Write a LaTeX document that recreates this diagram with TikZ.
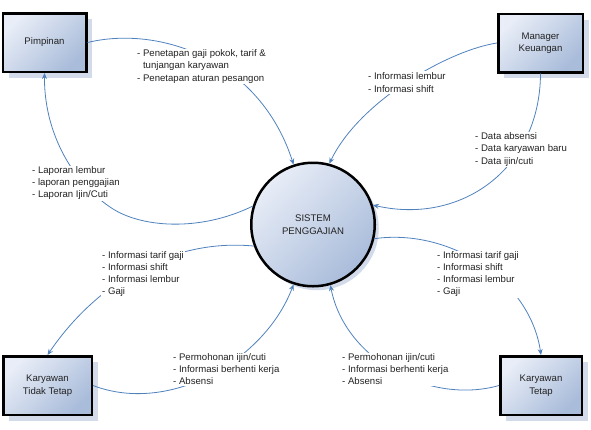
\documentclass[tikz,border=0pt]{standalone}
\usepackage{fontspec}
\setmainfont{Liberation Sans}
\usetikzlibrary{shadows,arrows.meta}
\definecolor{flowc}{HTML}{4F81BD}
\definecolor{boxlight}{HTML}{E8EDF7}
\definecolor{boxdark}{HTML}{A9BCDA}
\definecolor{shadowc}{HTML}{D3DBEA}
\definecolor{txt}{HTML}{222222}
\tikzset{
  entity/.style={draw=black, line width=2.5pt, rectangle, inner sep=0pt,
    top color=boxlight, bottom color=boxdark, shading angle=45,
    drop shadow={shadow xshift=6pt, shadow yshift=-6pt, fill=shadowc, opacity=1},
    font=\fontsize{9.6}{12.5}\selectfont, text=txt, align=center, minimum height=58.5pt},
  procnode/.style={draw=black, line width=2.5pt, circle, inner sep=0pt,
    top color=boxlight, bottom color=boxdark, shading angle=45,
    drop shadow={shadow xshift=4pt, shadow yshift=-4pt, fill=shadowc, opacity=1},
    font=\fontsize{9.6}{12.5}\selectfont, text=txt, align=center, minimum size=123.5pt},
  lbl/.style={font=\fontsize{9.6}{12}\selectfont, text=txt, align=left, fill=white,
    inner sep=1pt, anchor=west},
  flow/.style={draw=flowc, line width=0.8pt, -{Stealth[length=6pt,width=5pt]}}
}
\begin{document}
\begin{tikzpicture}[x=1pt,y=-1pt]
\useasboundingbox (0,0) rectangle (591,429);
% entities
\node[entity, minimum width=83.5pt] (pim) at (44.5,42.5) {Pimpinan};
\node[entity, minimum width=84.5pt] (mk) at (540.5,43) {Manager\\Keuangan};
\node[entity, minimum width=88.5pt] (ktt) at (47.5,385.5) {Karyawan\\Tidak Tetap};
\node[entity, minimum width=81.5pt] (kt) at (541,385.5) {Karyawan\\Tetap};
\node[procnode] (sys) at (313,224.5) {SISTEM\\PENGGAJIAN};
% flows
\draw[flow] (pim.east) .. controls (160,25) and (260,60) .. (sys.108);
\draw[flow] (mk.west) .. controls (450,50) and (360,100) .. (sys.75);
\draw[flow] (mk.south) .. controls (540,170) and (460,225) .. (sys.18);
\draw[flow] (sys.163) .. controls (200,232) and (140,228) .. (110,207)
   .. controls (70,180) and (44,130) .. (pim.south);
\draw[flow] (sys.200) .. controls (170,238) and (95,285) .. (ktt.north);
\draw[flow] (ktt.east) .. controls (170,415) and (265,360) .. (sys.252);
\draw[flow] (sys.347) .. controls (450,228) and (530,280) .. (kt.north);
\draw[flow] (kt.west) .. controls (430,405) and (345,360) .. (sys.286);
% labels
\node[lbl, font=\fontsize{9.6}{12.5}\selectfont] (la) at (136,66.5) {- Penetapan gaji pokok, tarif \&\\\phantom{- }tunjangan karyawan\\- Penetapan aturan pesangon};
\node[lbl, font=\fontsize{9.6}{13}\selectfont] (lb) at (367,82.5) {- Informasi lembur\\- Informasi shift};
\node[lbl, font=\fontsize{9.6}{12.5}\selectfont] (lc) at (474,149.5) {- Data absensi\\- Data karyawan baru\\- Data ijin/cuti};
\node[lbl] (ld) at (31,183.5) {- Laporan lembur\\- laporan penggajian\\- Laporan Ijin/Cuti};
\node[lbl] (le) at (101,274.5) {- Informasi tarif gaji\\- Informasi shift\\- Informasi lembur\\- Gaji};
\node[lbl] (lf) at (436,274.5) {- Informasi tarif gaji\\- Informasi shift\\- Informasi lembur\\- Gaji};
\node[lbl] (lg) at (172,369.5) {- Permohonan ijin/cuti\\- Informasi berhenti kerja\\- Absensi};
\node[lbl] (lh) at (341,369.5) {- Permohonan ijin/cuti\\- Informasi berhenti kerja\\- Absensi};
\end{tikzpicture}
\end{document}
